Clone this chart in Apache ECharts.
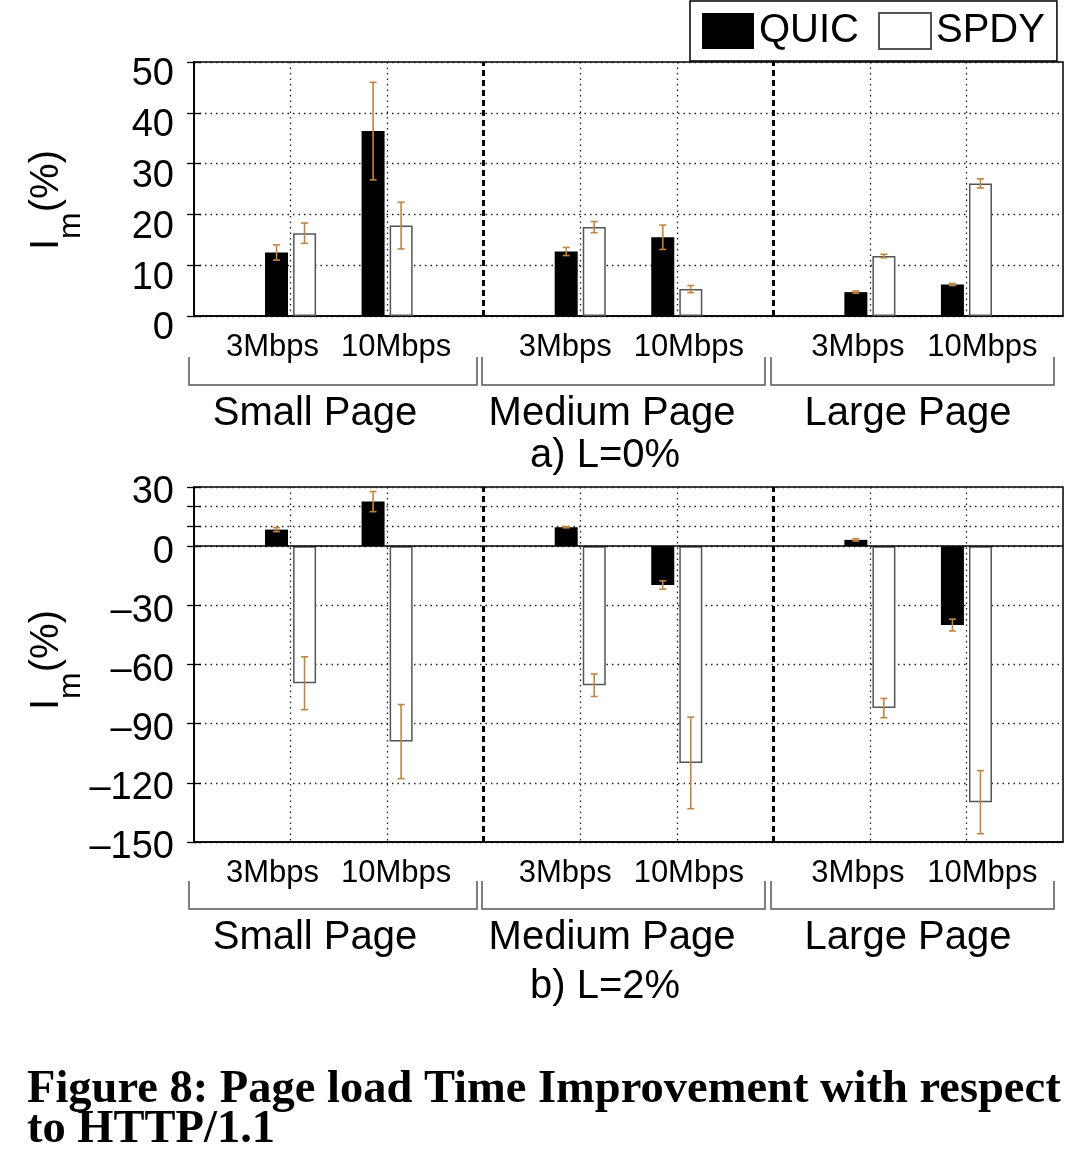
<!DOCTYPE html>
<html><head><meta charset="utf-8">
<script src="https://cdn.jsdelivr.net/npm/echarts@6/dist/echarts.min.js"></script>
<style>html,body{margin:0;padding:0;background:#fff}#c{width:1092px;height:1160px}</style>
</head><body><div id="c"></div>
<script>
// ---------- data ----------
const pages = ['Small Page', 'Medium Page', 'Large Page'];
const rates = ['3Mbps', '10Mbps'];
const panelTitles = ['a) L=0%', 'b) L=2%'];
const seriesNames = ['QUIC', 'SPDY'];
// order: Small-3, Small-10, Medium-3, Medium-10, Large-3, Large-10
const quic0 = [12.5, 36.4, 12.7, 15.5, 4.7, 6.2];
const quic0Err = [1.5, 9.6, 0.8, 2.4, 0.2, 0.2];
const spdy0 = [16.3, 17.8, 17.5, 5.3, 11.8, 26.1];
const spdy0Err = [2.0, 4.6, 1.1, 0.7, 0.35, 0.9];
const quic2 = [8.4, 22.6, 9.6, -19.7, 3.2, -40.0];
const quic2Err = [1.0, 5.1, 0.3, 2.1, 0.6, 3.0];
const spdy2 = [-69.5, -99.1, -70.5, -109.9, -82.1, -129.8];
const spdy2Err = [13.4, 18.8, 5.7, 23.2, 4.9, 16.0];
const yTicks2 = [-150, -120, -90, -60, -30, 0, 10, 20, 30];
const yLabels2 = [-150, -120, -90, -60, -30, 0, 30];

// ---------- style ----------
const F = '"Liberation Sans", Arial, Helvetica, sans-serif';
const SERIF = 'bold 46.5px "Liberation Serif", "Times New Roman", serif';
const ERR = '#c2843f';
const labelShift = [-18, 9, -15, 12, -12, 16];
const nCat = pages.length * rates.length;
const slots = pages.length * (rates.length + 1);
const xPos = i => Math.floor(i / rates.length) * (rates.length + 1) + (i % rates.length) + 1;
const xs = Array.from({length: nCat}, (_, i) => xPos(i));
const seps = pages.slice(1).map((_, g) => (g + 1) * (rates.length + 1));

const rich = {};
labelShift.forEach((s, i) => {
  rich['r' + i] = {fontSize: 31, lineHeight: 31, fontFamily: F, color: '#000',
    padding: s < 0 ? [0, -2 * s, 0, 0] : [0, 0, 0, 2 * s]};
});
const dotted = {type: [1.5, 4], color: '#222', width: 1.3};

function labelCfg(r) {
  const vals = xs.filter((_, i) => i % rates.length === r);
  return {
    show: true, customValues: vals, margin: 16, showMinLabel: true, showMaxLabel: true, hideOverlap: false,
    formatter: v => { const i = xs.indexOf(v); return '{r' + i + '|' + rates[i % rates.length] + '}'; },
    rich: rich
  };
}
function xAxes(g) {
  return [{
    gridIndex: g, type: 'value', min: 0, max: slots, position: 'bottom',
    axisLine: {onZero: false, lineStyle: {color: '#000', width: 1.5}},
    axisTick: {show: false, customValues: xs},
    splitLine: {show: true, lineStyle: dotted},
    axisLabel: labelCfg(0)
  }, {
    gridIndex: g, type: 'value', min: 0, max: slots, position: 'bottom', offset: 0,
    axisLine: {show: false, onZero: false}, axisTick: {show: false}, splitLine: {show: false},
    axisLabel: labelCfg(1)
  }];
}
function yRight(g, min, max, interval, ticks) {
  return {
    gridIndex: g, type: 'value', position: 'right', min, max, interval,
    axisLine: {show: true, lineStyle: {color: '#000', width: 1.5}},
    axisTick: {show: true, inside: true, length: 7, lineStyle: {color: '#000', width: 1.3}, customValues: ticks},
    axisLabel: {show: false}, splitLine: {show: false}
  };
}

function errData(vals, errs, side) {
  return vals.map((v, i) => [xPos(i), v, errs[i], side]);
}
function renderErr(params, api) {
  const x = api.value(0), v = api.value(1), e = api.value(2), side = api.value(3);
  const t = api.coord([x, v + e]), b = api.coord([x, v - e]);
  const cx = t[0] + side * 14;
  const st = {stroke: ERR, lineWidth: 1.6};
  return {type: 'group', children: [
    {type: 'line', shape: {x1: cx, y1: t[1], x2: cx, y2: b[1]}, style: st},
    {type: 'line', shape: {x1: cx - 3.5, y1: t[1], x2: cx + 3.5, y2: t[1]}, style: st},
    {type: 'line', shape: {x1: cx - 3.5, y1: b[1], x2: cx + 3.5, y2: b[1]}, style: st}
  ]};
}
function sepLines(extra) {
  const d = seps.map(s => ({xAxis: s, lineStyle: {type: [6, 4], width: 3, color: '#000'}}));
  return {symbol: 'none', silent: true, label: {show: false}, data: d.concat(extra || [])};
}
function bars(g, q, s, qe, se, extraMark) {
  const xi = g * 2, yi = g * 2;
  return [
    {type: 'bar', name: seriesNames[0], xAxisIndex: xi, yAxisIndex: yi,
     data: q.map((v, i) => [xPos(i), v]), barWidth: 23, barGap: '22%',
     itemStyle: {color: '#000'}},
    {type: 'bar', name: seriesNames[1], xAxisIndex: xi, yAxisIndex: yi,
     data: s.map((v, i) => [xPos(i), v]), barWidth: 23, barGap: '22%',
     itemStyle: {color: '#fff', borderColor: '#555', borderWidth: 1.5}},
    {type: 'custom', xAxisIndex: xi, yAxisIndex: yi, renderItem: renderErr, z: 5, silent: true,
     data: errData(q, qe, -1).concat(errData(s, se, 1)), markLine: sepLines(extraMark)}
  ];
}

const txt = (x, y, text, size) => ({type: 'text', x, y, silent: true,
  style: {text, fontSize: size, fontFamily: F, fill: '#000', align: 'center', verticalAlign: 'middle'}});
const bracket = (x1, x2, y1, y2) => ({type: 'polyline', silent: true,
  shape: {points: [[x1, y1], [x1, y2], [x2, y2], [x2, y1]]}, style: {stroke: '#555', lineWidth: 1.5, fill: null}});
const yName = (y) => ({type: 'text', x: 47, y, rotation: Math.PI / 2, silent: true,
  style: {text: '{a|I}{b|m}{a|(%)}', align: 'center', verticalAlign: 'middle',
    rich: {a: {fontSize: 40, lineHeight: 40, fontFamily: F, fill: '#000'},
           b: {fontSize: 32, lineHeight: 32, fontFamily: F, fill: '#000', padding: [48, 0, 0, 0]}}}});

const groupCenters = [315, 612, 908];
const bracketX = [[189, 477], [482, 765], [771, 1054]];
const graphics = [yName(200), yName(660)];
[[357, 385, 414, 456], [881, 909, 938, 987]].forEach((p, k) => {
  bracketX.forEach((b, g) => {
    graphics.push(bracket(b[0], b[1], p[0], p[1]));
    graphics.push(txt(groupCenters[g], p[2], pages[g], 40));
  });
  graphics.push(txt(605, p[3], panelTitles[k], 40));
});
graphics.push({type: 'text', x: 27, y: 1090, silent: true,
  style: {text: 'Figure 8: Page load Time Improvement with respect', font: SERIF, fill: '#000', verticalAlign: 'middle'}});
graphics.push({type: 'text', x: 27, y: 1130, silent: true,
  style: {text: 'to HTTP/1.1', font: SERIF, fill: '#000', verticalAlign: 'middle'}});

const chart = echarts.init(document.getElementById('c'), null, {renderer: 'canvas'});
chart.setOption({
  animation: false,
  backgroundColor: '#fff',
  textStyle: {fontFamily: F},
  legend: {
    data: seriesNames, left: 690, top: 1, icon: 'rect', itemWidth: 52, itemHeight: 36, itemGap: 19,
    padding: [10, 12, 10, 12], borderColor: '#000', borderWidth: 1.5, selectedMode: false,
    textStyle: {fontSize: 40, color: '#000', fontFamily: F}
  },
  grid: [
    {left: 194, top: 62, width: 869, height: 254, show: true, borderColor: '#000', borderWidth: 1.5},
    {left: 194, top: 487, width: 869, height: 355, show: true, borderColor: '#000', borderWidth: 1.5}
  ],
  xAxis: [].concat(xAxes(0), xAxes(1)),
  yAxis: [
    {gridIndex: 0, type: 'value', min: 0, max: 50, interval: 10,
     axisLine: {show: true, lineStyle: {color: '#000', width: 1.5}},
     axisTick: {show: true, inside: true, length: 7, lineStyle: {color: '#000', width: 1.3}},
     splitLine: {show: true, lineStyle: dotted},
     axisLabel: {fontSize: 38, margin: 20, verticalAlign: 'top', lineHeight: 26, color: '#000', fontFamily: F,
       showMinLabel: true, showMaxLabel: true}},
    yRight(0, 0, 50, 10),
    {gridIndex: 1, type: 'value', min: -150, max: 30, interval: 30,
     axisLine: {show: true, onZero: false, lineStyle: {color: '#000', width: 1.5}},
     axisTick: {show: true, inside: true, length: 7, lineStyle: {color: '#000', width: 1.3}, customValues: yTicks2},
     splitLine: {show: true, lineStyle: dotted},
     axisLabel: {customValues: yLabels2, fontSize: 38, margin: 20, verticalAlign: 'top', lineHeight: 12, color: '#000', fontFamily: F,
       showMinLabel: true, showMaxLabel: true,
       formatter: v => String(v).replace('-', '\u2013')}},
    yRight(1, -150, 30, 30, yTicks2)
  ],
  series: [].concat(
    bars(0, quic0, spdy0, quic0Err, spdy0Err),
    bars(1, quic2, spdy2, quic2Err, spdy2Err, [{yAxis: 0, lineStyle: {type: 'solid', width: 1.5, color: '#000'}}])
  ),
  graphic: graphics
});
</script></body></html>
